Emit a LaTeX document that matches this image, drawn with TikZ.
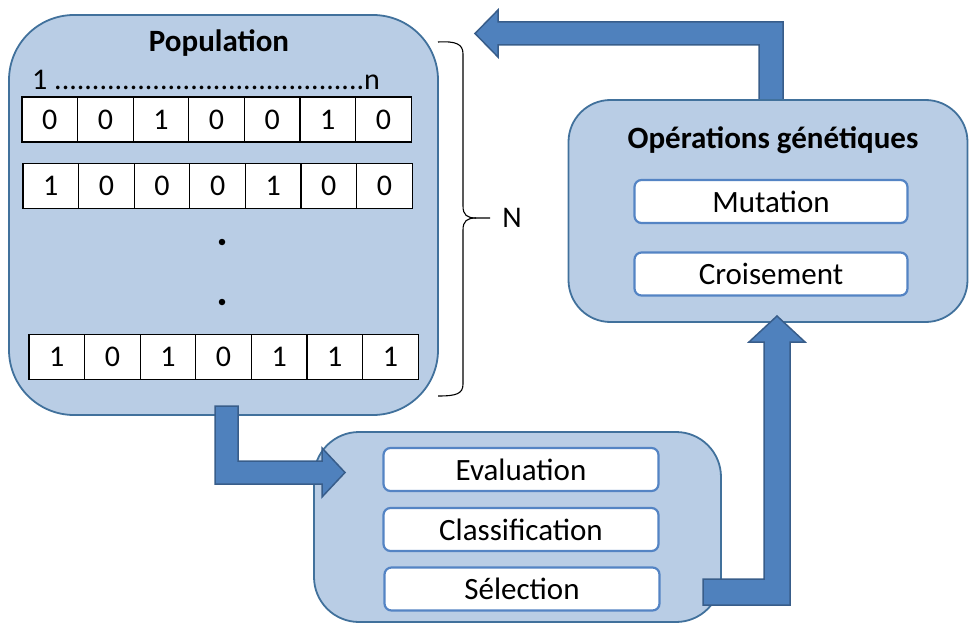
\documentclass[tikz,border=0pt]{standalone}
\usepackage{fontspec}
\setmainfont{Carlito}
\definecolor{boxfill}{RGB}{185,205,229}
\definecolor{boxline}{RGB}{65,113,156}
\definecolor{arrfill}{RGB}{79,129,189}
\definecolor{arrline}{RGB}{56,93,138}
\definecolor{inline}{RGB}{84,132,196}
\begin{document}
\begin{tikzpicture}[x=1pt,y=-1pt,
  outer/.style={draw=boxline,fill=boxfill,line width=1.8pt,inner sep=0pt},
  inner/.style={draw=inline,fill=white,line width=2.2pt,rounded corners=7pt,inner sep=0pt,
     minimum width=273pt,minimum height=43pt,font=\fontsize{31}{36}\selectfont},
  cell/.style={draw=black,fill=white,line width=1.2pt,inner sep=0pt,
     minimum width=55.6pt,minimum height=45pt,font=\fontsize{30}{35}\selectfont},
  title/.style={font=\fontsize{31}{36}\selectfont\bfseries,inner sep=0pt},
  blockarrow/.style={fill=arrfill,draw=arrline,line width=1.5pt,line join=miter},
  bullet/.style={circle,fill=black,inner sep=0pt,minimum size=6.5pt}]
\useasboundingbox (0,0) rectangle (969,623);
\begin{scope}
\clip (0,0) rectangle (969,623);
% block arrow from operations back to population (behind box)
\draw[blockarrow] (759,101) -- (759,45) -- (498,45) -- (498,57) -- (475,33.5) -- (498,10) -- (498,22) -- (783,22) -- (783,101) -- cycle;
% boxes
\node[outer,rounded corners=65pt,minimum width=429pt,minimum height=400pt] (pop) at (223.5,215) {};
\node[outer,rounded corners=42pt,minimum width=399pt,minimum height=222pt] (ops) at (768,211) {};
\node[outer,rounded corners=45pt,minimum width=407pt,minimum height=190pt] (sel) at (517.5,527) {};
% titles
\node[title] (poptitle) at (219,43) {Population};
\node[title] (opstitle) at (773,140) {Opérations génétiques};
% index line
\node[anchor=base west,inner sep=0pt,font=\fontsize{30}{35}\selectfont] (idx) at (32,90) {1 .........................................n};
% chromosomes
\foreach \v [count=\i] in {0,0,1,0,0,1,0}
  \node[cell] (a\i) at ({22+55.6*(\i-0.5)},119.5) {\v};
\foreach \v [count=\i] in {1,0,0,0,1,0,0}
  \node[cell] (b\i) at ({23+55.6*(\i-0.5)},186) {\v};
\foreach \v [count=\i] in {1,0,1,0,1,1,1}
  \node[cell] (c\i) at ({29+55.6*(\i-0.5)},357) {\v};
\node[bullet] (d1) at (222,242) {};
\node[bullet] (d2) at (222,302) {};
% brace and N
\coordinate (btop) at (438,42);
\coordinate (bbot) at (438,396);
\coordinate (btip) at (490,218);
\draw[line width=1.1pt] (btop) .. controls (456,41) and (463,44) .. (463,54) -- (463,206)
  .. controls (463,215) and (467,218) .. (476,218) -- (btip);
\draw[line width=1.1pt] (476,218) .. controls (467,218) and (463,221) .. (463,230) -- (463,384)
  .. controls (463,394) and (456,396) .. (bbot);
\node[inner sep=0pt,font=\fontsize{30}{35}\selectfont] (N) at (512,218) {N};
% inner boxes
\node[inner] (mut) at (771,201.5) {Mutation};
\node[inner] (cro) at (771,274) {Croisement};
\node[inner,minimum width=275pt] (eva) at (521,469.5) {Evaluation};
\node[inner,minimum width=275pt] (cla) at (521,529.5) {Classification};
\node[inner,minimum width=275pt] (selc) at (522,589) {Sélection};
% block arrow population -> evaluation
\draw[blockarrow] (215,406) -- (238,406) -- (238,461) -- (322,461) -- (322,448) -- (345,472.5) -- (322,497) -- (322,484) -- (215,484) -- cycle;
% block arrow selection -> operations
\draw[blockarrow] (703,579) -- (764,579) -- (764,342) -- (749,342) -- (777,316) -- (805,342) -- (790,342) -- (790,605) -- (703,605) -- cycle;
\end{scope}
\end{tikzpicture}
\end{document}
